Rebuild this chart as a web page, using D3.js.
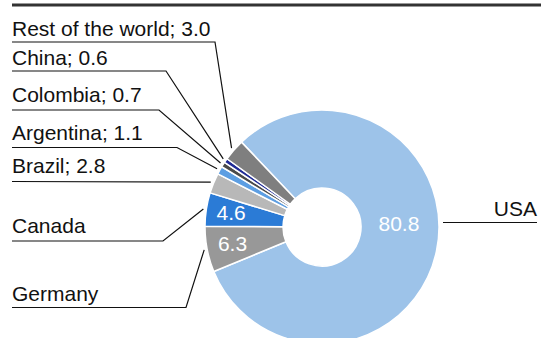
<!DOCTYPE html>
<html>
<head>
<meta charset="utf-8">
<script src="https://cdn.jsdelivr.net/npm/d3@7"></script>
<style>
  html, body { margin: 0; padding: 0; background: #fff; }
  svg { display: block; font-family: "Liberation Sans", Arial, sans-serif; }
</style>
</head>
<body>
<svg id="chart" width="557" height="338"></svg>
<script>
// ---- data ----
const categories = ["USA", "Germany", "Canada", "Brazil", "Argentina", "Colombia", "China", "Rest of the world"];
const values = [80.8, 6.3, 4.6, 2.8, 1.1, 0.7, 0.6, 3.0];
const colors = ["#9dc3e9", "#989898", "#2b7bd6", "#b8b8b8", "#5d9ee2", "#4a4a4a", "#1f2b96", "#7f7f7f"];
// which slices show their value inside the ring
const insideValue = [true, true, true, false, false, false, false, false];

// ---- layout (positions of outside labels, not data) ----
const outsideLayout = [
  { anchor: "end",   x: 537, baseline: 216,   lineY: 222.5, elbowX: 443, leader: false },
  { anchor: "start", x: 12,  baseline: 300.5, lineY: 307.5, elbowX: 186, leader: true },
  { anchor: "start", x: 12,  baseline: 233,   lineY: 241,   elbowX: 163, leader: true },
  { anchor: "start", x: 12,  baseline: 173,   lineY: 181.5, elbowX: null, leader: true },
  { anchor: "start", x: 12,  baseline: 140,   lineY: 147.5, elbowX: 177, leader: true },
  { anchor: "start", x: 12,  baseline: 101.5, lineY: 110,   elbowX: 159, leader: true },
  { anchor: "start", x: 12,  baseline: 64.5,  lineY: 71,    elbowX: 166, leader: true },
  { anchor: "start", x: 12,  baseline: 36,    lineY: 42,    elbowX: 215, leader: true }
];
const insideLayout = [
  { r: 77, angleShiftDeg: -15 },
  { r: 91, angleShiftDeg: 0.5 },
  { r: 92, angleShiftDeg: 0.5 },
  null, null, null, null, null
];

const W = 557, H = 338;
const cx = 322, cy = 227, R = 117, r0 = 39;
const startDeg = -43.5;

const svg = d3.select("#chart");

// title rule
svg.append("line")
  .attr("x1", 12).attr("x2", 541).attr("y1", 5).attr("y2", 5)
  .attr("stroke", "#333").attr("stroke-width", 3);

const rad = d => d * Math.PI / 180;
const pie = d3.pie().sort(null).value(d => d.value)
  .startAngle(rad(startDeg)).endAngle(rad(startDeg + 360));

const data = categories.map((c, i) => ({ name: c, value: values[i], color: colors[i], i }));
const arcs = pie(data);

const arc = d3.arc().innerRadius(r0).outerRadius(R);
const g = svg.append("g").attr("transform", `translate(${cx},${cy})`);

g.selectAll("path.slice").data(arcs).join("path")
  .attr("class", "slice")
  .attr("d", arc)
  .attr("fill", d => d.data.color)
  .attr("stroke", "#fff")
  .attr("stroke-width", 1.5)
  .attr("stroke-linejoin", "round");

// inside value labels
arcs.forEach((d, i) => {
  if (!insideValue[i]) return;
  const L = insideLayout[i];
  const mid = (d.startAngle + d.endAngle) / 2 + rad(L.angleShiftDeg);
  const la = d3.arc().innerRadius(L.r).outerRadius(L.r);
  const [x, y] = la.centroid({ startAngle: mid, endAngle: mid });
  g.append("text")
    .attr("x", x).attr("y", y).attr("dy", "0.36em")
    .attr("text-anchor", "middle")
    .attr("fill", "#fff")
    .attr("font-size", 21)
    .text(d3.format(".1f")(d.data.value));
});

// outside labels with leader lines
const leaderArc = d3.arc().innerRadius(R + 3).outerRadius(R + 3);
arcs.forEach((d, i) => {
  const L = outsideLayout[i];
  const label = insideValue[i] ? d.data.name : `${d.data.name}; ${d3.format(".1f")(d.data.value)}`;
  const t = svg.append("text")
    .attr("x", L.x).attr("y", L.baseline)
    .attr("text-anchor", L.anchor)
    .attr("fill", "#111")
    .attr("font-size", 21)
    .text(label);

  const [px, py] = leaderArc.centroid(d);
  const pts = [];
  if (L.anchor === "start") {
    pts.push([L.x, L.lineY]);
    if (L.elbowX !== null) pts.push([L.elbowX, L.lineY]);
    if (L.leader) pts.push([cx + px, cy + py]);
  } else {
    pts.push([L.x, L.lineY]);
    pts.push([L.elbowX, L.lineY]);
  }
  svg.append("path")
    .attr("d", d3.line()(pts))
    .attr("fill", "none")
    .attr("stroke", "#111")
    .attr("stroke-width", 1.2);
});
</script>
</body>
</html>
